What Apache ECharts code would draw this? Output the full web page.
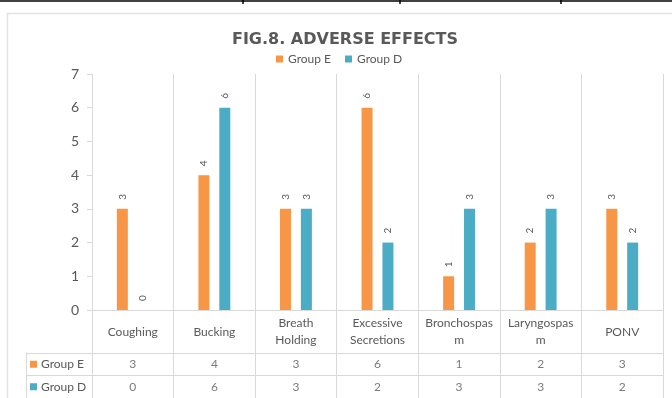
<!DOCTYPE html>
<html>
<head>
<meta charset="utf-8">
<style>html,body{margin:0;padding:0;background:#fff;}#c{width:672px;height:398px;}</style>
<script src="https://cdn.jsdelivr.net/npm/echarts@6/dist/echarts.min.js"></script>
</head>
<body>
<div id="c"></div>
<script>
const categories = ['Coughing','Bucking','Breath Holding','Excessive Secretions','Bronchospasm','Laryngospasm','PONV'];
const categoryTickLabels = ['Coughing','Bucking','Breath\nHolding','Excessive\nSecretions','Bronchospas\nm','Laryngospas\nm','PONV'];
const groupE = [3,4,3,6,1,2,3];
const groupD = [0,6,3,2,3,3,2];
const seriesNames = ['Group E','Group D'];
const yTicks = [0,1,2,3,4,5,6,7];

const colE = '#F79646', colD = '#4BACC6';
const grey = '#595959', lineC = '#d9d9d9';
const font = 'Lato';

const chart = echarts.init(document.getElementById('c'), null, {renderer:'canvas'});

const tableData = (arr, row) => arr.map((v,i)=>[categories[i], row, v]);

chart.setOption({
  animation:false,
  backgroundColor:'#fff',
  title:{
    text:'FIG.8. ADVERSE EFFECTS',
    left:340, top:27, textAlign:'center',
    textStyle:{fontFamily:'DejaVu Sans', fontWeight:'bold', fontSize:16, color:grey}
  },
  legend:{
    data:seriesNames, top:53, left:276, padding:0,
    icon:'rect', itemWidth:7, itemHeight:7, itemGap:14,
    textStyle:{fontFamily:font, fontSize:12, color:grey}
  },
  graphic:[
    {type:'rect', shape:{x:7.5,y:13.5,width:700,height:420}, style:{fill:'none', stroke:'#e2e2e2', lineWidth:1.5}, silent:true},
    {type:'line', shape:{x1:0,y1:1,x2:672,y2:1}, style:{stroke:'#000', lineWidth:1.5}, silent:true},
    {type:'line', shape:{x1:243,y1:0,x2:243,y2:4}, style:{stroke:'#000', lineWidth:1.5}, silent:true},
    {type:'line', shape:{x1:400,y1:0,x2:400,y2:4}, style:{stroke:'#000', lineWidth:1.5}, silent:true},
    {type:'line', shape:{x1:561,y1:0,x2:561,y2:4}, style:{stroke:'#000', lineWidth:1.5}, silent:true}
  ],
  grid:[
    {left:92, top:74, width:571, height:236, containLabel:false},
    {left:92, top:353, width:571, height:46, containLabel:false}
  ],
  xAxis:[
    {gridIndex:0, type:'category', data:categories,
     axisLine:{show:true, lineStyle:{color:lineC}},
     axisTick:{show:true, length:88, interval:0, alignWithLabel:false, lineStyle:{color:lineC}},
     splitLine:{show:true, interval:0, lineStyle:{color:lineC}},
     axisLabel:{interval:0, margin:22, verticalAlign:'middle', lineHeight:17,
       fontFamily:font, fontSize:12, color:grey,
       formatter:(v,i)=>categoryTickLabels[i]}},
    {gridIndex:1, type:'category', data:categories,
     axisLine:{show:false}, axisTick:{show:false}, axisLabel:{show:false}, splitLine:{show:false}}
  ],
  yAxis:[
    {gridIndex:0, type:'value', min:yTicks[0], max:yTicks[yTicks.length-1], interval:1,
     axisLine:{show:true, lineStyle:{color:lineC}},
     axisTick:{show:true, length:5, lineStyle:{color:lineC}},
     splitLine:{show:false},
     axisLabel:{margin:13, fontFamily:font, fontSize:14, color:grey}},
    {gridIndex:1, type:'category', data:seriesNames, inverse:true,
     axisLine:{show:true, lineStyle:{color:lineC}},
     axisTick:{show:true, length:66, interval:0, alignWithLabel:false, lineStyle:{color:lineC}},
     splitLine:{show:true, interval:0, lineStyle:{color:lineC}},
     axisLabel:{align:'left', margin:62,
       formatter:(v)=>'{' + (v===seriesNames[0]?'e':'d') + '|}{t|' + v + '}',
       rich:{
         e:{width:7, height:7, backgroundColor:colE},
         d:{width:7, height:7, backgroundColor:colD},
         t:{fontFamily:font, fontSize:12, color:grey, padding:[0,0,0,4]}
       }}},
    {gridIndex:1, type:'category', data:seriesNames, position:'left', offset:66,
     axisLine:{show:true, lineStyle:{color:lineC}}, axisTick:{show:false}, axisLabel:{show:false}, splitLine:{show:false}}
  ],
  series:[
    {name:seriesNames[0], type:'bar', xAxisIndex:0, yAxisIndex:0, data:groupE,
     barWidth:11, barGap:'90%', itemStyle:{color:colE},
     label:{show:true, position:'top', rotate:90, align:'left', verticalAlign:'middle', distance:9,
       fontFamily:font, fontSize:10, color:grey}},
    {name:seriesNames[1], type:'bar', xAxisIndex:0, yAxisIndex:0, data:groupD,
     barWidth:11, barGap:'90%', itemStyle:{color:colD},
     label:{show:true, position:'top', rotate:90, align:'left', verticalAlign:'middle', distance:9,
       fontFamily:font, fontSize:10, color:grey}},
    {name:'tableE', type:'scatter', xAxisIndex:1, yAxisIndex:1, data:tableData(groupE, seriesNames[0]),
     symbolSize:1, itemStyle:{color:'rgba(0,0,0,0)'}, silent:true,
     label:{show:true, position:'inside', formatter:p=>p.value[2], fontFamily:font, fontSize:12, color:grey}},
    {name:'tableD', type:'scatter', xAxisIndex:1, yAxisIndex:1, data:tableData(groupD, seriesNames[1]),
     symbolSize:1, itemStyle:{color:'rgba(0,0,0,0)'}, silent:true,
     label:{show:true, position:'inside', formatter:p=>p.value[2], fontFamily:font, fontSize:12, color:grey}}
  ]
});
</script>
</body>
</html>
